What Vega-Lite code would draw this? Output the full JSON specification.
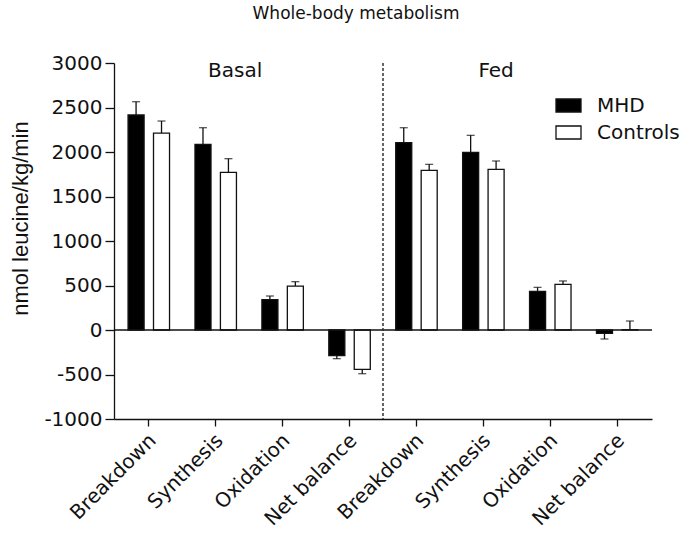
{
  "$schema": "https://vega.github.io/schema/vega-lite/v6.json",
  "width": 538,
  "height": 356,
  "autosize": "none",
  "padding": {"left": 114, "top": 63, "right": 32, "bottom": 120},
  "background": "white",
  "title": {"text": "Whole-body metabolism", "font": "DejaVu Sans", "fontSize": 17, "fontWeight": "normal", "color": "#111", "frame": "group", "anchor": "middle", "dx": -27, "offset": 30},
  "config": {
    "view": {"stroke": null},
    "axis": {"domainColor": "#111", "domainWidth": 1.3, "tickColor": "#111", "tickWidth": 1.3, "labelColor": "#111", "titleColor": "#111", "grid": false}
  },
  "datasets": {
    "bars": [
      {"cat": "Basal|Breakdown", "group": "MHD", "value": 2416, "end": 2565},
      {"cat": "Basal|Breakdown", "group": "Controls", "value": 2213, "end": 2348},
      {"cat": "Basal|Synthesis", "group": "MHD", "value": 2086, "end": 2273},
      {"cat": "Basal|Synthesis", "group": "Controls", "value": 1772, "end": 1925},
      {"cat": "Basal|Oxidation", "group": "MHD", "value": 341, "end": 382},
      {"cat": "Basal|Oxidation", "group": "Controls", "value": 494, "end": 543},
      {"cat": "Basal|Net balance", "group": "MHD", "value": -289, "end": -322},
      {"cat": "Basal|Net balance", "group": "Controls", "value": -442, "end": -491},
      {"cat": "Fed|Breakdown", "group": "MHD", "value": 2105, "end": 2273},
      {"cat": "Fed|Breakdown", "group": "Controls", "value": 1794, "end": 1861},
      {"cat": "Fed|Synthesis", "group": "MHD", "value": 1996, "end": 2187},
      {"cat": "Fed|Synthesis", "group": "Controls", "value": 1805, "end": 1899},
      {"cat": "Fed|Oxidation", "group": "MHD", "value": 434, "end": 479},
      {"cat": "Fed|Oxidation", "group": "Controls", "value": 513, "end": 551},
      {"cat": "Fed|Net balance", "group": "MHD", "value": -37, "end": -101},
      {"cat": "Fed|Net balance", "group": "Controls", "value": 3, "end": 101}
    ]
  },
  "layer": [
    {
      "data": {"name": "bars"},
      "mark": {"type": "bar", "stroke": "#111", "strokeWidth": 1.3},
      "encoding": {
        "x": {
          "field": "cat", "type": "nominal", "title": null,
          "scale": {"domain": ["Basal|Breakdown", "Basal|Synthesis", "Basal|Oxidation", "Basal|Net balance", "Fed|Breakdown", "Fed|Synthesis", "Fed|Oxidation", "Fed|Net balance"], "paddingInner": 0, "paddingOuter": 0.02},
          "axis": {"labelAngle": -45, "labelFont": "DejaVu Sans", "labelFontSize": 20, "labelExpr": "split(datum.label, '|')[1]", "tickSize": 7, "labelPadding": 4, "labelOffset": -3}
        },
        "xOffset": {"field": "group", "type": "nominal", "scale": {"domain": ["MHD", "Controls"], "paddingInner": 0.37, "paddingOuter": 0.5}},
        "y": {
          "field": "value", "type": "quantitative", "title": "nmol leucine/kg/min",
          "scale": {"domain": [-1000, 3000], "nice": false},
          "axis": {
            "values": [-1000, -750, -500, -250, 0, 250, 500, 750, 1000, 1250, 1500, 1750, 2000, 2250, 2500, 2750, 3000],
            "labelExpr": "datum.value % 500 === 0 ? '' + datum.value : ''",
            "tickSize": {"condition": {"test": "datum.value % 500 !== 0", "value": 4}, "value": 9},
            "labelPadding": 3,
            "labelFont": "DejaVu Sans", "labelFontSize": 20,
            "titleFont": "Liberation Sans", "titleFontSize": 22, "titleFontWeight": "normal",
            "titleX": -87, "titleY": 155, "titleAlign": "center", "titleBaseline": "alphabetic", "titleAngle": -90
          }
        },
        "color": {
          "field": "group", "type": "nominal",
          "scale": {"domain": ["MHD", "Controls"], "range": ["#000000", "#ffffff"]},
          "legend": {"orient": "none", "legendX": 441, "legendY": 29, "title": null, "symbolType": "M-1,-0.52H1V0.52H-1Z", "symbolSize": 625, "symbolStrokeColor": "#111", "symbolStrokeWidth": 1.3, "labelFont": "DejaVu Sans", "labelFontSize": 20, "labelColor": "#111", "labelOffset": 15, "rowPadding": 3, "padding": 0, "direction": "vertical"}
        }
      }
    },
    {
      "data": {"values": [{}]},
      "mark": {"type": "rule", "color": "#111", "strokeWidth": 1.3},
      "encoding": {"y": {"datum": 0, "type": "quantitative"}}
    },
    {
      "data": {"name": "bars"},
      "mark": {"type": "rule", "color": "#111", "strokeWidth": 1.3},
      "encoding": {
        "x": {"field": "cat", "type": "nominal", "title": null},
        "xOffset": {"field": "group", "type": "nominal", "scale": {"domain": ["MHD", "Controls"], "paddingInner": 0.37, "paddingOuter": 0.5}},
        "y": {"field": "value", "type": "quantitative", "title": "nmol leucine/kg/min"},
        "y2": {"field": "end"}
      }
    },
    {
      "data": {"name": "bars"},
      "mark": {"type": "tick", "color": "#111", "thickness": 1.3, "size": 8},
      "encoding": {
        "x": {"field": "cat", "type": "nominal", "title": null},
        "xOffset": {"field": "group", "type": "nominal", "scale": {"domain": ["MHD", "Controls"], "paddingInner": 0.37, "paddingOuter": 0.5}},
        "y": {"field": "end", "type": "quantitative", "title": "nmol leucine/kg/min"}
      }
    },
    {
      "data": {"values": [{"cat": "Fed|Breakdown"}]},
      "mark": {"type": "rule", "color": "#333", "strokeWidth": 1.5, "strokeDash": [3, 2]},
      "encoding": {
        "x": {"field": "cat", "type": "nominal", "title": null, "bandPosition": 0},
        "y": {"datum": 3000, "type": "quantitative"},
        "y2": {"datum": -1000}
      }
    },
    {
      "data": {"values": [{"cat": "Basal|Synthesis", "label": "Basal", "pos": 2913}]},
      "mark": {"type": "text", "font": "DejaVu Sans", "fontSize": 20, "color": "#111", "baseline": "middle", "align": "center"},
      "encoding": {
        "x": {"field": "cat", "type": "nominal", "title": null, "bandPosition": 0.79},
        "y": {"field": "pos", "type": "quantitative", "title": "nmol leucine/kg/min"},
        "text": {"field": "label"}
      }
    },
    {
      "data": {"values": [{"cat": "Fed|Synthesis", "label": "Fed", "pos": 2913}]},
      "mark": {"type": "text", "font": "DejaVu Sans", "fontSize": 20, "color": "#111", "baseline": "middle", "align": "center"},
      "encoding": {
        "x": {"field": "cat", "type": "nominal", "title": null, "bandPosition": 0.69},
        "y": {"field": "pos", "type": "quantitative", "title": "nmol leucine/kg/min"},
        "text": {"field": "label"}
      }
    }
  ]
}
